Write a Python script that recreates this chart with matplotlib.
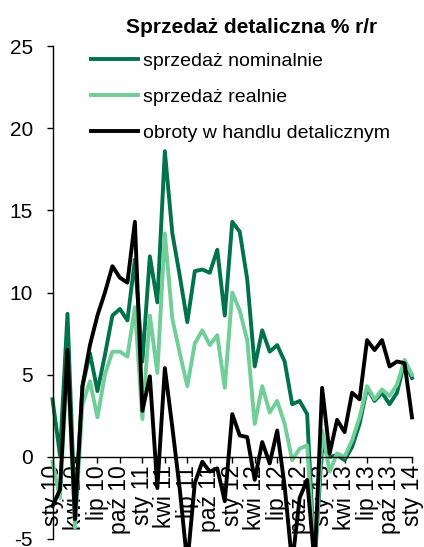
import numpy as np
import matplotlib
matplotlib.use("Agg")
import matplotlib.pyplot as plt

plt.rcParams['font.family'] = ['Liberation Sans', 'DejaVu Sans']

# monthly data, sty 2010 - sty 2014
nominal = [3.5, 0.1, 8.7, -3.5, 4.3, 6.3, 4.0, 6.2, 8.6, 9.0, 8.3, 12.0,
           5.8, 12.2, 9.4, 18.6, 13.6, 11.0, 8.2, 11.3, 11.4, 11.2, 12.6, 8.6,
           14.3, 13.7, 10.8, 5.5, 7.7, 6.4, 6.8, 5.8, 3.2, 3.4, 2.6, -6.5,
           0.6, 0.0, 0.1, -0.2, 0.6, 2.0, 4.2, 3.4, 3.9, 3.2, 3.9, 5.8,
           4.8]
real = [-0.3, -2.5, 6.0, -4.3, 3.2, 4.6, 2.4, 5.0, 6.4, 6.4, 6.1, 9.1,
        2.3, 8.6, 5.1, 13.6, 8.4, 6.3, 4.3, 6.9, 7.7, 6.8, 7.4, 4.2,
        10.0, 8.9, 7.1, 2.0, 4.3, 2.7, 3.4, 2.0, -0.2, 0.5, 0.7, -6.5,
        1.6, -0.9, 0.2, 0.0, 1.0, 2.4, 4.3, 3.5, 4.1, 3.7, 4.4, 5.9,
        5.0]
turnover = [-3.0, -2.0, 6.5, -3.8, 4.3, 6.8, 8.6, 10.0, 11.6, 10.9, 10.6, 14.3,
            2.8, 4.9, -1.9, 5.4, 1.8, -2.0, -6.5, -1.6, -0.3, -0.9, -0.7, -2.7,
            2.6, 1.3, 1.2, -1.4, 0.9, -0.4, 1.6, -1.8, -6.5, -2.5, -1.4, -6.5,
            4.2, 0.2, 2.25, 1.5, 3.9, 3.5, 7.1, 6.5, 7.1, 5.5, 5.8, 5.7,
            2.4]
tick_labels = ['sty 10', 'kwi 10', 'lip 10', 'paź 10', 'sty 11', 'kwi 11', 'lip 11',
               'paź 11', 'sty 12', 'kwi 12', 'lip 12', 'paź 12', 'sty 13', 'kwi 13',
               'lip 13', 'paź 13', 'sty 14']

x = np.arange(len(nominal))

fig = plt.figure(figsize=(4.24, 5.47), dpi=100)
ax = fig.add_axes([52.5/424, 8/547, (412-52.5)/424, (539-46)/547])

ax.plot(x, nominal, color='#00734A', lw=2.8, label='sprzedaż nominalnie', clip_on=False)
ax.plot(x, real, color='#70CF98', lw=2.8, label='sprzedaż realnie', clip_on=False)
ax.plot(x, turnover, color='black', lw=2.8, label='obroty w handlu detalicznym', clip_on=False)

ax.spines['top'].set_visible(False)
ax.spines['right'].set_visible(False)
ax.spines['bottom'].set_position(('data', 0))
ax.spines['left'].set_linewidth(1)
ax.spines['bottom'].set_linewidth(1)

ax.set_xlim(0, 48)
ax.set_ylim(-5, 25)
ax.set_yticks([-5, 0, 5, 10, 15, 20, 25])
ax.set_yticklabels(['-5', '0', '5', '10', '15', '20', '25'])
ax.set_xticks(np.arange(0, 49, 3))
ax.set_xticklabels(tick_labels)

ax.tick_params(axis='y', direction='out', length=4, width=1, pad=10, labelsize=15)
ax.tick_params(axis='x', direction='out', length=4, width=1, pad=2, labelsize=16.5,
               labelrotation=90)

fig.text(252/424, 1 - 33/547, 'Sprzedaż detaliczna % r/r', ha='center', va='baseline',
         fontsize=15, fontweight='bold')

fig.legend(loc='upper left', bbox_to_anchor=(91/424, 1 - 52/547), frameon=False,
           fontsize=14, handlelength=2.4, handletextpad=0.25, labelspacing=0.95,
           borderpad=0, borderaxespad=0)

fig.savefig('out.png', dpi=100)
